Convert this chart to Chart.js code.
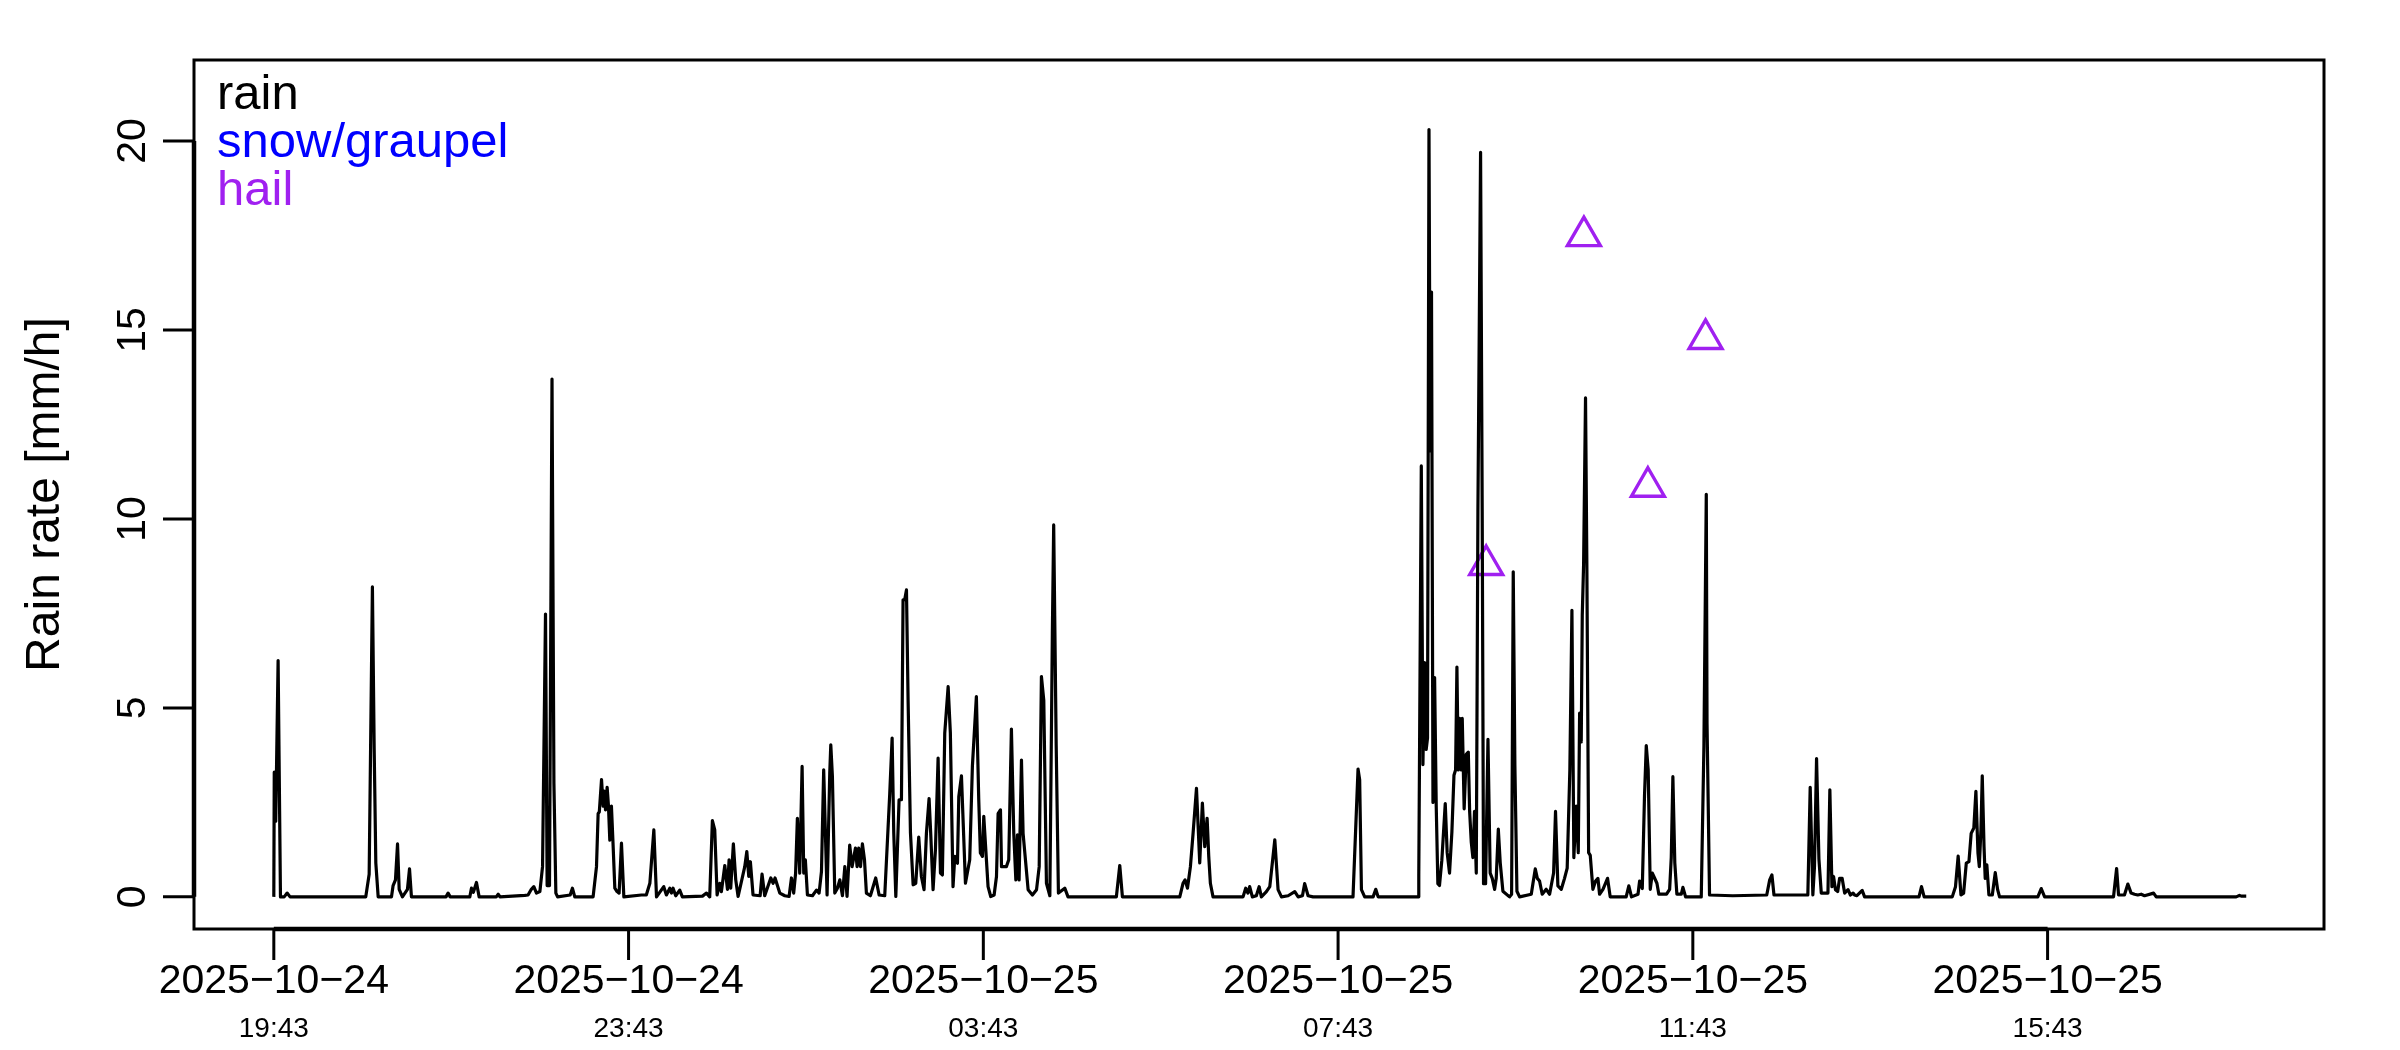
<!DOCTYPE html>
<html>
<head>
<meta charset="utf-8">
<script src="https://cdn.jsdelivr.net/npm/chart.js@4.4.1/dist/chart.umd.min.js"></script>
<style>
html,body{margin:0;padding:0;background:#fff;}
#c{display:block;}
</style>
</head>
<body>
<canvas id="c" width="2400" height="1050" style="width:2400px;height:1050px"></canvas>
<script>
// minutes since 2025-10-24 19:43
const rainMinutes = [
0,0.3,1.3,2.9,4.5,7,9,11,62.2,64.5,66.7,67.9,69,70.6,79.6,80.7,82.3,83.7,84.8,87,90.4,91.8,93.1,116.5,117.9,119.3,132.6,133.7,135,137.1,138.9,150.5,151.8,153,169.8,172,174.2,175.9,177.7,180,181.8,183.8,184.9,186.5,188.2,189.5,190.8,192,200.5,202,203.6,216,218.3,219.4,220.2,221.7,222.8,223.5,224.4,225.5,226.4,227.3,228.4,229.5,230.7,232.2,233.6,235.2,236.8,248.7,252,254.4,257.1,258.9,
263.8,265.6,267.9,269,270.1,271.9,274.6,276.4,290,292.7,294.9,296.7,298.3,299.9,301.7,302.8,305.1,306.9,308,309.1,310.9,312.5,314.1,318.6,320,321.3,322.4,324.2,329,330.3,332.1,336.2,337.8,339.1,342.3,345.7,348.6,350.2,351.7,353,354.2,355.8,357.4,358.5,359.6,361,364.4,367.1,368.9,370.5,372,374.3,376.1,376.8,377.9,379.5,381.3,382.9,384.7,386.3,387.8,389.6,391.2,393.5,394.6,395.7,396.9,398.2,399.6,400.9,403.6,407.2,409.5,413.3,416.7,418.3,419.4,420.8,423,424.6,425.7,426.8,428,429.1,430.7,432.5,434.3,436.3,438.1,439.9,441.5,443.3,444.4,446,447.6,449.4,451,452.3,453.9,456.2,457.7,459.5,460.7,462.5,463.4,465.2,466.3,467.9,470.8,472.6,475.3,476.9,478,479.4,480.3,481.4,483.2,485,487.3,488.9,490,491.6,492.3,493.8,495.6,497.2,499,500.6,502,503.1,504.2,505.8,506.9,508.5,510.3,513.2,516,517.8,519.3,520.9,522.7,525,526.7,527.6,529.3,530.8,
535.1,537.3,570,572.3,574.1,612.9,615.1,616.5,618.1,620.1,621.9,624.2,626.4,628.2,629.8,631.4,632.5,633.6,635.4,655.7,657.5,659,660.2,662,664.7,666.6,668.1,671.5,673.8,677.2,679.4,681.7,686.2,690.7,693,695.9,697.4,699.7,703.1,730.1,733.5,734.6,735.8,738,743.7,745.5,747.1,774.1,
774.6,776.3,777.4,778.5,779.6,780.5,781.5,782.3,783.2,784.2,785.3,786.4,787.5,788.6,790.2,792.5,793.8,795.4,797,798.4,799.5,800.4,801.3,802.2,803.3,804,805.3,806.7,808.1,809,810.1,811.2,812.3,813.5,814.6,816.4,817.5,818.4,819.8,821.4,822.9,824.3,825.9,827,828.4,829.7,831.5,836,837.4,838.5,839.6,841,842.8,850.7,851.8,853.4,854.8,856.3,858.1,860.8,863.1,865.8,867.1,868.7,871,873.2,875,876.8,878.2,879.5,881.1,882.5,883.4,884.5,885.2,886.1,887.4,888.3,889.5,890.6,892.4,894.2,895.8,896.9,899.2,902.3,904.1,914.9,916.7,918.5,922.9,924,925.8,927.3,928.5,929.8,931.2,932.6,934.1,935.7,937,942.2,944.3,945.4,946.5,947.8,949.2,952.2,953.3,955.1,965.7,967.5,969.1,969.6,971.3,987,1010,1012,1013.5,1014.9,1037.8,1039.4,1041.2,1042.3,1043.7,1045.3,1046.9,1051.4,1052.7,1054.1,1055.2,1056.5,1058,1059.3,1061,1062.7,1065,1066.6,1068.4,1069.4,1071,1074.6,1076.2,1113,1114.7,1116.5,1135.5,1137.7,1139.5,1141.4,1143.2,1145,1146.8,1148.3,1150.1,1151.5,1152.9,1153.8,1154.9,1155.8,1157,1157.8,1158.9,1160.3,1162.6,1164.6,1166.2,1167.5,1193.4,1195.7,1198,1244.6,1246.7,1248,1252,1254.3,1256.5,1258.8,1261,1263.3,1265.6,1271.7,1273.5,1327.6,1329.8,1331,1334.4
];
const rainRate = [
0,3.3,2.0,6.25,0,0,0.1,0,0,0.6,8.2,3.9,0.9,0,0,0.3,0.45,1.4,0.2,0,0.2,0.74,0,0,0.1,0,0,0.23,0.12,0.38,0,0,0.07,0,0.04,0.05,0.2,0.27,0.1,0.14,0.8,7.48,0.3,0.3,13.7,3,0.1,0,0.05,0.23,0,0,0.8,2.2,2.25,3.1,2.4,2.8,2.3,2.9,2.4,1.5,2.4,1.4,0.23,0.14,0.1,1.42,0,0.05,0.05,0.36,1.77,0,
0.27,0.05,0.23,0.1,0.23,0.03,0.18,0,0.02,0.1,0,2.02,1.77,0.05,0.36,0.14,0.83,0.2,0.98,0.23,1.4,0.45,0.01,0.8,1.2,0.54,0.93,0.05,0.03,0.6,0.03,0.5,0.36,0.5,0.1,0.03,0.01,0.5,0.1,0.63,2.08,0.63,3.45,0.63,0.98,0.05,0.03,0.18,0.1,0.67,3.36,0.05,3.27,4.02,3.18,0.1,0.23,0.45,0.03,0.8,0.01,1.37,0.8,1.29,0.8,1.29,0.8,1.4,0.98,0.1,0.03,0.5,0.05,0.03,2.74,4.2,1.7,0.01,2.57,2.57,7.86,7.86,8.12,5.2,1.7,0.32,0.36,1.58,0.54,0.19,1.68,2.6,1.68,0.19,1.24,3.67,0.63,0.58,4.33,5.56,4.33,0.27,1.07,0.89,2.65,3.2,2.04,0.36,0.98,3.45,5.3,2.57,1.16,1.07,2.13,1.42,0.27,0.01,0.05,0.54,2.2,2.3,0.8,0.8,0.8,0.98,4.44,1.68,0.45,1.64,0.45,3.62,1.68,0.98,0.19,0.05,0.19,0.8,5.83,5.2,0.36,0.03,6.97,9.84,4,0.1,
0.23,0,0,0.83,0,0,0.36,0.45,0.23,0.8,1.68,2.87,0.9,2.48,1.33,2.08,1.07,0.36,0,0,0.23,0.1,0.27,0,0.03,0.27,0,0.14,0.27,1.51,0.19,0,0.03,0.14,0,0.03,0.35,0.03,0,0,3.38,3.1,0.19,0,0,0.2,0,0,
0.6,11.4,3.5,6.2,3.9,4.2,20.3,11.8,16.0,2.5,5.8,2.4,0.35,0.3,0.97,2.47,1.17,0.63,1.72,3.22,3.36,6.08,3.36,4.72,3.36,4.72,2.33,3.77,3.83,2.26,1.45,1.04,2.26,0.63,10.2,19.7,10.2,0.35,0.35,4.17,0.63,0.49,0.2,0.49,1.79,0.9,0.15,0,0.07,8.6,3.5,0.15,0,0.07,0.35,0.74,0.49,0.42,0.07,0.2,0.07,0.63,2.26,0.29,0.2,0.49,0.76,3.36,7.58,1.04,2.4,1.17,4.86,4.1,7.45,8.8,13.2,8.8,1.17,1.1,0.2,0.42,0.49,0.07,0.2,0.49,0,0,0.29,0,0.07,0.42,0.22,2.67,4.0,3.36,0.2,0.63,0.5,0.36,0.07,0.07,0.2,1.04,3.18,0.9,0.07,0.07,0.25,0,0,4,10.65,4.6,0.05,0.03,0.05,0.45,0.58,0.05,0.05,2.9,0.05,0.8,3.66,1.0,0.1,0.1,2.83,0.27,0.54,0.19,0.14,0.49,0.49,0.1,0.19,0.05,0.1,0.05,0.03,0.17,0,0,0.27,0,0,0.27,1.08,0.05,0.1,0.89,0.93,1.68,1.82,2.79,1.16,0.8,1.77,3.2,1.33,0.49,0.85,0.05,0.05,0.64,0.19,0,0,0.22,0,0,0.75,0.05,0.05,0.34,0.1,0.07,0.05,0.07,0.03,0.1,0,0,0.04,0.02,0.02
];
const snowMinutes = [];
const snowRate = [];
const hailMinutes = [820.2, 886.3, 929.6, 968.6];
const hailRate = [8.78, 17.48, 10.85, 14.76];

const xTickMinutes = [0, 240, 480, 720, 960, 1200];
const xTickDates = ['2025\u221210\u221224','2025\u221210\u221224','2025\u221210\u221225','2025\u221210\u221225','2025\u221210\u221225','2025\u221210\u221225'];
const xTickTimes = ['19:43','23:43','03:43','07:43','11:43','15:43'];
const yTicks = [0, 5, 10, 15, 20];
const legendLabels = ['rain','snow/graupel','hail'];
const legendColors = ['#000000','#0000FF','#A020F0'];
const yTitle = 'Rain rate [mm/h]';

const FONT = '"Liberation Sans", Arial, Helvetica, sans-serif';

const decor = {
  id: 'decor',
  afterDraw(chart) {
    const ctx = chart.ctx;
    const a = chart.chartArea;
    const xs = chart.scales.x, ys = chart.scales.y;
    ctx.save();
    ctx.strokeStyle = '#000';
    ctx.fillStyle = '#000';
    ctx.lineCap = 'butt';
    // box
    ctx.lineWidth = 3;
    ctx.strokeRect(a.left, a.top, a.right - a.left, a.bottom - a.top);
    // axis lines
    ctx.lineWidth = 4.5;
    ctx.beginPath();
    ctx.moveTo(xs.getPixelForValue(xTickMinutes[0]), a.bottom);
    ctx.lineTo(xs.getPixelForValue(xTickMinutes[xTickMinutes.length-1]), a.bottom);
    ctx.moveTo(a.left, ys.getPixelForValue(yTicks[0]));
    ctx.lineTo(a.left, ys.getPixelForValue(yTicks[yTicks.length-1]));
    ctx.stroke();
    // ticks
    ctx.lineWidth = 3;
    ctx.beginPath();
    xTickMinutes.forEach(m => {
      const px = xs.getPixelForValue(m);
      ctx.moveTo(px, a.bottom); ctx.lineTo(px, a.bottom + 31);
    });
    yTicks.forEach(v => {
      const py = ys.getPixelForValue(v);
      ctx.moveTo(a.left - 31, py); ctx.lineTo(a.left, py);
    });
    ctx.stroke();
    // x labels
    ctx.textAlign = 'center';
    ctx.textBaseline = 'alphabetic';
    xTickMinutes.forEach((m, i) => {
      const px = xs.getPixelForValue(m);
      ctx.font = '41px ' + FONT;
      ctx.fillText(xTickDates[i], px, 993);
      ctx.font = '28px ' + FONT;
      ctx.fillText(xTickTimes[i], px, 1037);
    });
    // y labels (rotated)
    ctx.font = '41px ' + FONT;
    yTicks.forEach(v => {
      const py = ys.getPixelForValue(v);
      ctx.save();
      ctx.translate(145, py);
      ctx.rotate(-Math.PI / 2);
      ctx.fillText(String(v), 0, 0);
      ctx.restore();
    });
    // y title
    ctx.save();
    ctx.font = '48px ' + FONT;
    ctx.translate(59, (a.top + a.bottom) / 2);
    ctx.rotate(-Math.PI / 2);
    ctx.fillText(yTitle, 0, 0);
    ctx.restore();
    // legend
    ctx.font = '49px ' + FONT;
    ctx.textAlign = 'left';
    const baselines = [109, 157, 205];
    legendLabels.forEach((t, i) => {
      ctx.fillStyle = legendColors[i];
      ctx.fillText(t, 217, baselines[i]);
    });
    ctx.restore();
  }
};

new Chart(document.getElementById('c'), {
  type: 'scatter',
  data: {
    datasets: [
      {
        label: legendLabels[0],
        data: rainMinutes.map((m, i) => ({x: m, y: rainRate[i]})),
        showLine: true,
        borderColor: legendColors[0],
        borderWidth: 3.2,
        pointRadius: 0,
        tension: 0,
        borderJoinStyle: 'round'
      },
      {
        label: legendLabels[1],
        data: snowMinutes.map((m, i) => ({x: m, y: snowRate[i]})),
        showLine: false,
        borderColor: legendColors[1],
        pointRadius: 0
      },
      {
        label: legendLabels[2],
        data: hailMinutes.map((m, i) => ({x: m, y: hailRate[i]})),
        showLine: false,
        pointStyle: 'triangle',
        pointRadius: 19,
        pointBorderWidth: 3.4,
        borderColor: legendColors[2],
        pointBorderColor: legendColors[2],
        backgroundColor: 'rgba(0,0,0,0)',
        pointBackgroundColor: 'rgba(0,0,0,0)'
      }
    ]
  },
  options: {
    responsive: false,
    animation: false,
    devicePixelRatio: 1,
    events: [],
    layout: { padding: { left: 194, right: 76, top: 60, bottom: 121 } },
    plugins: { legend: { display: false }, title: { display: false }, tooltip: { enabled: false } },
    scales: {
      x: { type: 'linear', min: -54, max: 1387, display: false },
      y: { type: 'linear', min: -0.85, max: 22.14, display: false }
    }
  },
  plugins: [decor]
});
</script>
</body>
</html>
